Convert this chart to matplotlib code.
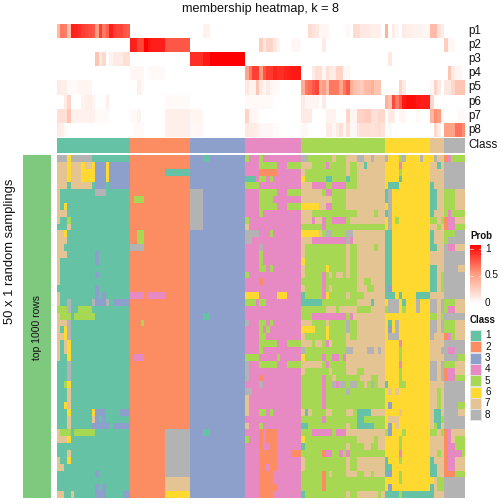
import matplotlib
matplotlib.use("Agg")
import numpy as np
import matplotlib.pyplot as plt
from matplotlib.colors import ListedColormap, LinearSegmentedColormap
from matplotlib.patches import Rectangle

plt.rcParams['font.family'] = ['Liberation Sans', 'DejaVu Sans']

class_colors = ['#66C2A5', '#FC8D62', '#8DA0CB', '#E78AC3', '#A6D854', '#FFD92F', '#E5C494', '#B3B3B3']
block_sizes = [21, 17, 16, 16, 24, 13, 4, 6]
prob_labels = ['p1', 'p2', 'p3', 'p4', 'p5', 'p6', 'p7', 'p8']
class_labels = ['1', '2', '3', '4', '5', '6', '7', '8']

# membership probabilities (percent), run-length per class block: "value*count"
prob_rows = [
 "35 62 60 35 90 88 85 80 78 75 72 50 80 62 70 90 80 78 78 72 70 | | 0*4 6*2 | | 0*2 18 15 12 5*3 0*5 4 0 18*2 12*2 10 8*3 | 40 0 10 4 0 10 8*2 6*2 5*3 | 35*2 15 10 | ",
 "| 90 88 78 78 100 92 90 90 90 90 72*7 | | 0*4 25 12 22 22 12 6 0*3 4*3 | 0*6 10 | | | 25 4 4",
 "0*11 30 10 20 0 6 10 10 10 16 16 | | 85*4 92*2 100*10 | | | 0 12 | | ",
 "| 4*4 0 3*5 | | 45 62 80 80 50 72 82 82 88 85 85 88 90 92 92 92 | 0*3 10 16 16 5 16 10 10 22 22 3 5 | | | 0*1 30 10 5 5 | ",
 "10 8 8 3 3 3 5*4 | 0*2 8 3 | | 12 6 6 30 10 5 10 5 3 3 | 42 62 66 72 78 42 50 35 62 62 62 45 62 72 42 32 30 26 36 36 40 30 30 | 0*4 22 10 | 4 22 10 | 12 12 20 30 30 30",
 "0*2 10 22 0*3 6 8 8 6 0*3 8 | 0*10 3*7 | | 3*4 3*4 | 10 5 5 5 5 0 10 | 40 32 76 60 72 92 95 95 95 92 90 90 90 | 20 | ",
 "16 16 16 30 7*7 3*4 | 3 3 6 0*7 8*7 | 5*4 | 22 5 5 3 | 10 10 10 0*4 6 6 6 0*3 22 5 5 22 22 26 26 16 16 20 20 | 0 10 10 0 5 5 0*3 3 | 38 55 50 4 | 0*4 3 3",
 "10 8 3 | 0 3 3 3 0*6 8*7 | 4*4 | 12 10 10 8 4 4 4 4 2 2 | 4 4 0 0 0 0 0 10 10 4 10 16 4 16 4 4 15 16 16 16 15 16 18 15 | 0 3 | 0 20 8 0 | 48 48 48 64 64 55",
]

# class of each cell, one row per line, block by block, run-length "class*count"
class_rows = [
 "8*3 6 8*6 1*11 | | 3*4 1*2 | 5 4*3 5 | 8*2 5*7 7 5*3 7*3 8*2 7*2 8 7*3 | 8 6*3 5 8 6*4 8 6*2 | 6 8 7*2 | 2 4 5*4",
 "7*3 6 7*3 6 7*2 6 3*3 6 3*6 | | | 4*4 5*5 4*3 5*4 | 7*3 5*4 4 5*5 7 5*2 7*2 1 7*5 | 6*4 4 | 7*2 1 7 | ",
 "7*3 6 7*3 6*4 3*3 6 3*6 | 2*10 1*7 | | 4*4 2*5 | 7 5*12 7 5*2 7*8 | 6*4 5 | | ",
 "7*3 6 7*3 6*4 3*3 6 3*6 | | | 1*3 4 5*2 4 5 | 6 5*6 1*2 5*4 1 5*2 7*8 | 6*4 1 | | ",
 "7*3 1 7*6 1 3*3 1 3*6 | | | 5*4 | 7*3 4*4 5*2 4*4 5*3 7*8 | 6 1*3 | 1 | ",
 "7 1*10 8*3 1*7 | | 8*4 | 4*4 5*5 4*3 5*4 | 7*6 5 4*2 5*4 7*11 | 1 8 | 1*2 | 5*3 7*3",
 "7 1*20 | 2 5*3 | 8*4 | 4*4 5*4 | 7*9 5*4 7*11 | 1 8 | 1*2 | 5*3 7*3",
 "7 1 6 1*18 | | 8*4 | 4*4 5*5 4*3 5*4 | 6*5 7*2 4*2 5*4 7*11 | 6 8 | 1*2 | 5*3 7*3",
 "7*3 1*18 | | 8*4 | 4*4 5 | 7*3 5*13 7*5 5 7*2 | 1 8 | 1 | 5 4 5*4",
 "7 1*2 5 1*17 | | 8*4 | 5 | 7*3 4 7*2 4 5*2 4*4 5 7*10 | 6 8 6 5 | 5*2 7 5 | 2 4*2 7*3",
 "1*3 7 1*17 | | 8*4 | 7 | 5*6 4 5*17 | 6 8 | 7*2 5 7 | 2 4*2 5*3",
 "7*2 6 1*18 | 2*2 5*2 | | 8*4 4*3 5 | 6*5 7 5 8*2 5*4 8*2 7*9 | 1*2 | 1 | 5*3 8*3",
 "7*3 1*18 | 2*2 5*2 | | 8*2 | 7*3 4*10 8 4 7*9 | 1*2 | 1 | 5 8*5",
 "7*2 1*19 | 8*4 | | 4*4 8 | 7 5*12 7 5*2 7*5 5 7*2 | 1*2 | 1*2 | 8 4*2 7*3",
 "7*3 1*8 3 1*9 | | | 4*4 5 | 7 5*12 7 5*2 7*8 | 1*2 | | ",
 "7 1*10 3 | | | 4*4 5 | 6 5*12 7 5*2 7*8 | 1*2 | | ",
 "7 | | | 4*4 5*2 4 5 | 7 5*6 6 5*5 7 5*2 7*8 | 1*2 | 1*2 | 8*4 7*2",
 "7 1*10 3 | | | 5 | 7 5*5 4 5 7 5 7*2 5 7 5*2 7*8 | 1*2 | 1*2 7 5 | ",
 "7 | | | 4*4 2 | 5*6 4 5*9 7*2 5*2 7*4 | 1*2 | 1*2 7 5 | ",
 "1*11 3 | | | | 7 5*5 4 5 7 5*7 7*3 5*2 7*3 | 1 3 | 1*2 7 5 | ",
 "7 1*10 3 1 3 | 4*4 2 4*5 | | 6*4 4*5 6*3 | 1 5*5 4 6 5*5 7 5*4 7*6 | 1*3 6 1 6*4 1*4 | | ",
 "7 1*2 8 1*6 8 3*3 8 1 3*5 | | | 5*3 4 5*2 | 1*6 5*10 7*4 1 7*3 | 6 8*3 6 1 6*3 8 6*3 | 8*2 7 8 | 5*3 7*3",
 "5*3 8 1*2 5*4 1*11 | | | | 5*7 7*3 5 7*5 5*4 7*4 | 5 8*3 6 5 6*3 8 6*3 | 8*2 7 8 | 5 4*2 7*3",
 "7 5*3 1 5*6 1*10 | | 3*4 1*2 | | 5*3 4*10 5 4 7*9 | | 5*2 7 5 | ",
 "7*3 8 1*17 | 2*3 5 | | 8 4*3 5*2 4 5 | 7*3 5*4 7 5*5 8 5*2 7*8 | 6 1 6 8 | 8*2 7 8 | 5*3 7*3",
 "7 1 6 8 1*17 | | | 4*4 5 4 5 | 6*4 5*3 6 5*5 8 5*2 7*8 | 6 3 6 8 | 8*2 7 8 | 5*3 7*3",
 "7*2 6 8 1*17 | | | 4*4 5*2 | 7 5*6 6 5*5 7 5*2 7*8 | 6 8*3 | 8 7*3 | 2 4 5 7*3",
 "7 1 7 6 1*17 | | | 4*4 5*5 4*3 5*4 | 7*3 5 7*2 5 4 7 5*4 7*11 | 6*4 4 | | ",
 "7 1 7 6 | | | 4*4 5 | 8 5*12 8*2 7*4 8*2 7 8 7 | 6*4 5 | 7*3 8 | 8 4*2 8*3",
 "7 1*2 6 | 2 4*3 | | 5*4 4*5 5 4*6 | 6 5*5 4 5*2 4*2 5 4 7*11 | 6*4 5 | | 8*4 5*2",
 "1*3 8 | | | 8 4*3 5*5 4*3 5*4 | 7*6 5 4 5*5 7*11 | 6*4 4 | 8*2 7 8 | 5*3 7*3",
 "1*3 8 | | | 8 | 7 5*7 7 5*4 7*3 5*2 7*6 | 6*4 5 | 8*2 7 8 | 2 4*2 7*3",
 "1*3 8 | | | 8 4*3 2 | 5*6 4 5*2 7 5*7 7*3 5*2 7*2 | 6*4 5 | 8*2 7 8 | 2 4*2 5*3",
 "1*2 5 6 | | | 4*4 8 | 5*6 4 5*2 8 4 8*2 5 8*2 5*2 7 5 8 5 7 7 | 1 6*3 5*2 | | ",
 "1*3 7 | | | 8*2 | 5*6 4 5*6 8 5*10 | 6 7 6 7 | 7*2 5 7 | ",
 "1*3 7 | | | 7 | 5*6 4 | | 7*2 5 7 | ",
 "1*2 6 7 | | | 7 | 5*6 4 | 6 3 | 7*2 5 7 | 8*4 5*2",
 "1*3 6 1*6 6 3*3 1*4 3*3 | | | 7 4*3 5*2 4 5 | 7 1 7 5*4 7*2 5*4 7*2 5 1*4 7*4 | 6*4 7 | 7 1*2 7 | 8*4 7*2",
 "1*3 7 1*6 7 3 1 3 | | | | 5*6 4 5*9 1*2 5*6 | 6 7*3 | 7 1*2 5 | ",
 "1*3 7 1*6 3*5 1 3*5 | | | 7 4*3 5 | 1*2 5*11 7 5*2 1*5 5*3 | 6 3 6 7 | 7 5 1 7 | ",
 "7 5*3 1 5*6 1*10 | 2*10 8*7 | 3*4 1*2 | 4*4 2 4 2*3 | 5*3 4*6 5 4*3 7*11 | 5 3 6*3 5 | 5*2 7 5 | 2 4 7*4",
 "7*3 6 1*17 | 2*10 8*7 | | 5 4*3 2 4 2*3 | 6 5*15 7*5 5 7*2 | 6*4 5 | | 2 4 7 5*3",
 "1*21 | 2*10 8*7 | | 4*4 2 4*2 2*2 | 1 5*12 7 5*4 7*2 5*2 7*2 | 6*4 5 | | 2 4*2 5*3",
 "1*3 7 | 2*10 8*7 | | 4*4 2*5 4*4 2*3 | 5*6 2 4*2 5*2 4 5 4 5*10 | 6*4 4 | 7*2 5 7 | 2 4*4 5",
 "7 1*2 6 | 2*10 8*7 | | 4*4 2*5 | 7 5*12 7 5*2 7*8 | 1 6*3 5 | 1 | 2 4*2 7*3",
 "7*2 | 2*10 8*7 | | 4*4 2*2 4 2*2 | 7 5*12 7 5*2 7*8 | 1*2 | 1*2 | 2 4*2 7*3",
 "1*11 3 | 2*10 8*7 | | 4*4 2*4 | 5*6 2 5 7 5*4 7*3 5*2 7*2 5 7*3 | 1 3 6*2 5 | 1*2 | 2*3 5*3",
 "1*21 | 2*10 7*7 | | 4*4 2*4 | 5*6 2 | 6*4 5 | 6 7 5*2 | ",
 "1*11 3 1 3 | 2*10 7*7 | | 4*4 2*5 | 5*6 2 | 6 3 | 1 7 5*2 | ",
 "7*2 1*2 7 1*6 3*3 1*5 3*2 | 2*10 6*7 | | 4*4 2*4 | 1 5*12 7 5*2 7*6 5 7 | 1*4 5 1*8 | 1 | ",
]


def expand(line, default_zero):
    out = []
    for b, (part, n) in enumerate(zip(line.split('|'), block_sizes)):
        cells = []
        for tok in part.split():
            if '*' in tok:
                v, c = tok.split('*')
                cells += [int(v)] * int(c)
            else:
                cells.append(int(tok))
        fill = 0 if default_zero else b + 1
        out += (cells + [fill] * n)[:n]
    return out


prob = np.array([expand(l, True) for l in prob_rows]) / 100.0
cls = np.array([expand(l, False) for l in class_rows])
top_class = np.repeat(np.arange(1, 9), block_sizes)[None, :]

W = 504
fig = plt.figure(figsize=(7, 7), dpi=72)


def pax(x0, y0, x1, y1):
    ax = fig.add_axes([x0 / W, 1 - y1 / W, (x1 - x0) / W, (y1 - y0) / W])
    ax.set_axis_off()
    return ax


cmap_cls = ListedColormap(class_colors)
cmap_prob = LinearSegmentedColormap.from_list('p', ['#FFFFFF', '#FF9E81', '#FF0000'])

L, R = 57, 465
ax = pax(L, 24, R, 136.8)
ax.imshow(prob, aspect='auto', cmap=cmap_prob, vmin=0, vmax=1, interpolation='nearest')
ax = pax(L, 138, R, 153)
ax.imshow(top_class, aspect='auto', cmap=cmap_cls, vmin=0.5, vmax=8.5, interpolation='nearest')
ax = pax(L, 155, R, 498)
ax.imshow(cls, aspect='auto', cmap=cmap_cls, vmin=0.5, vmax=8.5, interpolation='nearest')
ax = pax(23, 155, 51, 498)
ax.imshow(np.zeros((1, 1)), aspect='auto', cmap=ListedColormap(['#7FC97F']))


def t(x, y, s, **kw):
    kw.setdefault('va', 'center')
    kw.setdefault('ha', 'left')
    kw.setdefault('color', '#111111')
    fig.text(x / W, 1 - y / W, s, **kw)


t(260, 9, 'membership heatmap, k = 8', fontsize=12.6, ha='center')
for i, lab in enumerate(prob_labels):
    t(468, 24 + 14.1 * (i + 0.5), lab, fontsize=11.6)
t(468, 145.5, 'Class', fontsize=11.6)
t(10, 251, '50 x 1 random samplings', fontsize=13, rotation=90, ha='center')
t(37.5, 327, 'top 1000 rows', fontsize=10.4, rotation=90, ha='center')

t(470, 236, 'Prob', fontsize=9.8, fontweight='bold')
ax = pax(470, 245, 481, 304)
ax.imshow(np.linspace(1, 0, 100)[:, None], aspect='auto', cmap=cmap_prob, vmin=0, vmax=1)
for y, lab in [(248.5, '1'), (275.5, '0.5'), (303, '0')]:
    t(485, y, lab, fontsize=10)
    fig.add_artist(plt.Line2D([470 / W, 472.5 / W], [1 - y / W] * 2, color='white', lw=0.6))
    fig.add_artist(plt.Line2D([478.5 / W, 481 / W], [1 - y / W] * 2, color='white', lw=0.6))

t(470, 320, 'Class', fontsize=9.8, fontweight='bold')
for i, (c, lab) in enumerate(zip(class_colors, class_labels)):
    y0 = 330 + 11.3 * i
    fig.add_artist(Rectangle((470 / W, 1 - (y0 + 11) / W), 11 / W, 11 / W,
                             transform=fig.transFigure, fc=c, ec='#E8E8E8', lw=0.7))
    t(485, y0 + 5.5, lab, fontsize=10)

fig.savefig('out.png', dpi=72)
